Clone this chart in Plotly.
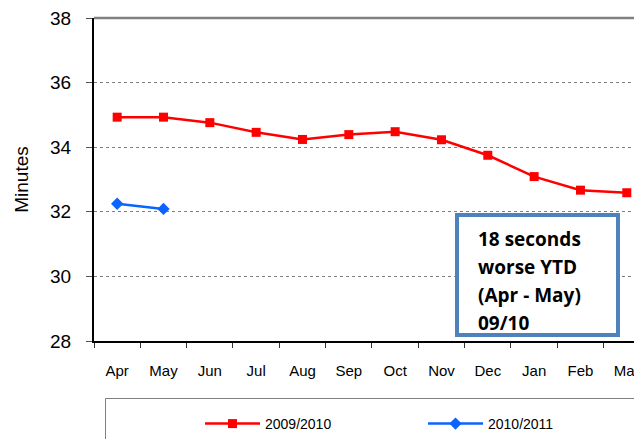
import plotly.graph_objects as go

months = ["Apr", "May", "Jun", "Jul", "Aug", "Sep", "Oct", "Nov", "Dec", "Jan", "Feb", "Mar"]
series_2009 = [34.93, 34.93, 34.76, 34.46, 34.24, 34.39, 34.48, 34.23, 33.75, 33.09, 32.67, 32.59]
months_2010 = ["Apr", "May"]
series_2010 = [32.25, 32.09]
y_ticks = [28, 30, 32, 34, 36, 38]
note_lines = ["18 seconds", "worse YTD", "(Apr - May)", "09/10"]

W, H = 634, 439
ML, MT, MR, MB = 94, 18, 0, 98
PW, PH = W - ML - MR, H - MT - MB

def px_x(x):
    return (x - ML) / PW

def px_y(y):
    return (MT + PH - y) / PH

fig = go.Figure()
fig.add_trace(go.Scatter(
    x=months, y=series_2009, name="2009/2010", mode="lines+markers",
    line=dict(color="#FF0000", width=2.5),
    marker=dict(symbol="square", size=9, color="#FF0000"),
    legend="legend",
))
fig.add_trace(go.Scatter(
    x=months_2010, y=series_2010, name="2010/2011", mode="lines+markers",
    line=dict(color="#0A64FF", width=2.5),
    marker=dict(symbol="diamond", size=9.5, color="#0A64FF"),
    legend="legend2",
))

cat_w = 46.33
x_right = -0.5 + PW / cat_w

fig.update_xaxes(
    type="category", categoryorder="array", categoryarray=months,
    range=[-0.5, x_right], tickson="boundaries",
    ticks="outside", ticklen=5, tickcolor="#333333", tickwidth=1,
    showline=True, linecolor="black", linewidth=2,
    showgrid=False, zeroline=False,
    tickfont=dict(family="Arial", size=15, color="black"),
    ticklabelstandoff=15, ticklabeloverflow="allow",
)
fig.update_yaxes(
    range=[28, 38], tickvals=y_ticks,
    ticks="outside", ticklen=6, tickcolor="#555555", tickwidth=1,
    showline=True, linecolor="black", linewidth=2,
    showgrid=True, gridcolor="#808080", griddash="dot", gridwidth=1,
    zeroline=False,
    tickfont=dict(family="Arial", size=19, color="black"),
    ticklabelstandoff=11,
    title=dict(text="Minutes", font=dict(family="Arial", size=19, color="black"), standoff=16),
)

shapes = [
    dict(type="line", xref="paper", yref="paper", x0=0, x1=1, y0=1, y1=1,
         line=dict(color="#808080", width=2.5)),
    dict(type="rect", xref="paper", yref="paper",
         x0=px_x(457), x1=px_x(618), y0=px_y(335), y1=px_y(215),
         line=dict(color="#4F81BD", width=4), fillcolor="white", layer="above"),
    dict(type="rect", xref="paper", yref="paper",
         x0=px_x(105.5), x1=px_x(700), y0=px_y(398.5), y1=px_y(480),
         line=dict(color="#808080", width=1)),
]

annotations = []
baseline0, step = 245.7, 28.1
for i, t in enumerate(note_lines):
    base = baseline0 + i * step
    annotations.append(dict(
        xref="paper", yref="paper", x=px_x(476), y=px_y(base - 7), xanchor="left", yanchor="middle",
        text="<b>" + t + "</b>", showarrow=False, align="left",
        font=dict(family="Open Sans", size=19, color="black"),
    ))

leg_common = dict(
    orientation="h", yanchor="middle", xanchor="left",
    font=dict(family="Arial", size=14, color="black"),
    itemwidth=55, bgcolor="rgba(0,0,0,0)",
)

fig.update_layout(
    width=W, height=H,
    margin=dict(l=ML, r=MR, t=MT, b=MB, autoexpand=False),
    paper_bgcolor="white", plot_bgcolor="white",
    shapes=shapes, annotations=annotations,
    showlegend=True,
    legend=dict(x=px_x(200), y=px_y(424), **leg_common),
    legend2=dict(x=px_x(423), y=px_y(424), **leg_common),
)

fig.write_html("out.html", config={"displayModeBar": False},
               post_script="document.body.style.margin='0';document.body.style.overflow='hidden';")
